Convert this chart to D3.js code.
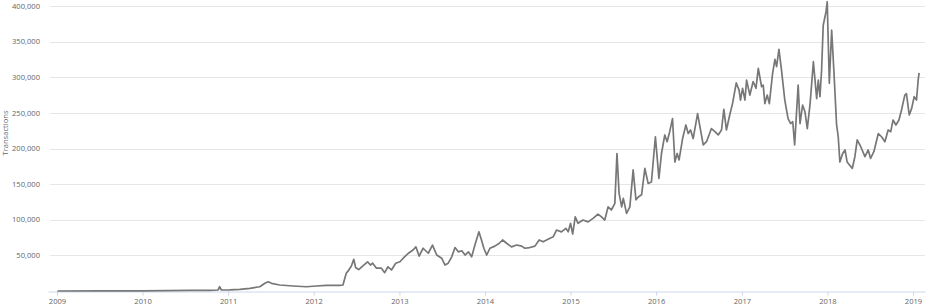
<!DOCTYPE html>
<html>
<head>
<meta charset="utf-8">
<script src="https://cdn.jsdelivr.net/npm/d3@7"></script>
<style>
  body { margin: 0; background: #fff; }
  text { font-family: "Open Sans", sans-serif; }
</style>
</head>
<body>
<svg id="chart" width="928" height="305"></svg>
<script>
const dates = [
  "2009-01-03","2009-07-02","2010-01-02","2010-07-22","2010-10-15","2010-11-19","2010-11-26","2010-12-03",
  "2011-01-08","2011-02-20","2011-04-04","2011-05-16","2011-06-07","2011-06-21","2011-07-05","2011-08-09",
  "2011-10-05","2011-12-01","2012-01-13","2012-02-24","2012-04-21","2012-05-05","2012-05-19","2012-05-29",
  "2012-06-10","2012-06-20","2012-06-28","2012-07-11","2012-07-28","2012-08-18","2012-08-30","2012-09-09",
  "2012-09-25","2012-10-16","2012-10-30","2012-11-13","2012-11-28","2012-12-16","2013-01-03","2013-01-17",
  "2013-02-08","2013-02-28","2013-03-12","2013-03-26","2013-04-12","2013-05-04","2013-05-22","2013-06-09",
  "2013-06-30","2013-07-14","2013-07-28","2013-08-12","2013-08-26","2013-09-09","2013-09-24","2013-10-08",
  "2013-10-22","2013-11-05","2013-11-19","2013-12-06","2013-12-17","2013-12-27","2014-01-08","2014-01-22",
  "2014-02-12","2014-03-03","2014-03-17","2014-04-03","2014-04-24","2014-05-16","2014-06-06","2014-06-20",
  "2014-07-11","2014-08-02","2014-08-20","2014-09-06","2014-09-27","2014-10-19","2014-11-02","2014-11-23",
  "2014-12-12","2014-12-22","2015-01-01","2015-01-10","2015-01-21","2015-02-02","2015-02-23","2015-03-17",
  "2015-04-07","2015-04-28","2015-05-13","2015-05-27","2015-06-10","2015-06-24","2015-07-09","2015-07-18",
  "2015-07-27","2015-08-07","2015-08-14","2015-08-28","2015-09-11","2015-09-25","2015-10-07","2015-10-17",
  "2015-10-31","2015-11-14","2015-11-28","2015-12-12","2015-12-29","2016-01-13","2016-01-24","2016-02-07",
  "2016-02-17","2016-02-28","2016-03-11","2016-03-21","2016-03-31","2016-04-08","2016-04-23","2016-05-07",
  "2016-05-17","2016-05-27","2016-06-07","2016-06-26","2016-07-06","2016-07-20","2016-08-03","2016-08-24",
  "2016-09-08","2016-09-22","2016-10-06","2016-10-16","2016-10-27","2016-11-10","2016-11-22","2016-12-08",
  "2016-12-20","2016-12-26","2017-01-04","2017-01-14","2017-01-21","2017-02-04","2017-02-18","2017-03-02",
  "2017-03-12","2017-03-26","2017-04-02","2017-04-09","2017-04-19","2017-04-28","2017-05-12","2017-05-22",
  "2017-05-29","2017-06-08","2017-06-19","2017-07-03","2017-07-17","2017-07-28","2017-08-06","2017-08-14",
  "2017-08-29","2017-09-06","2017-09-17","2017-09-27","2017-10-07","2017-10-19","2017-11-02","2017-11-16",
  "2017-11-23","2017-11-30","2017-12-07","2017-12-14","2017-12-26","2017-12-31","2018-01-09","2018-01-19",
  "2018-01-29","2018-02-09","2018-02-16","2018-02-23","2018-03-07","2018-03-17","2018-03-26","2018-04-17",
  "2018-04-28","2018-05-08","2018-05-23","2018-06-10","2018-06-24","2018-07-04","2018-07-18","2018-08-06",
  "2018-08-20","2018-09-03","2018-09-17","2018-09-28","2018-10-08","2018-10-20","2018-11-02","2018-11-13",
  "2018-11-27","2018-12-04","2018-12-16","2018-12-26","2019-01-06","2019-01-16","2019-01-23","2019-01-27"
];
const transactions = [
  1,200,300,800,1000,1400,6000,1400,
  1500,2300,3700,6000,10800,13000,10800,8400,
  7000,6000,7000,8000,8000,8400,25000,29000,
  35000,44500,33000,30000,35000,41000,36500,39000,
  32000,32000,25700,34000,29500,39000,41000,46000,
  53000,57500,62000,49000,60000,53000,64500,50500,
  46000,36500,39000,48000,61000,55000,56500,50500,
  55000,48000,64500,83000,71600,60000,50500,60000,
  63000,67000,71600,67000,62000,64500,63000,60000,
  61000,63000,71600,69000,72500,76000,85600,83000,
  88000,83000,95000,80000,104000,95000,99600,97000,
  102000,108000,104000,99600,118000,113700,123000,193000,
  137000,118000,130000,109000,118000,170000,128000,132000,
  135000,172000,151000,153000,216500,158000,193000,219000,
  209500,223600,242000,181000,193000,184000,214000,233000,
  221000,226000,214000,249000,230600,205000,209500,228000,
  223600,219000,226000,255000,226000,247000,263000,292000,
  282000,268000,284500,268000,296000,275000,294000,284500,
  312500,286700,289000,263000,275000,263000,305500,325000,
  315000,339000,310000,268000,242000,235000,237600,205000,
  289000,235000,261000,251600,228000,263000,321800,270000,
  296000,272700,310000,373000,392000,406000,291500,366000,
  305500,233000,216500,181000,193000,198000,181000,172000,
  188500,212000,202500,188500,198000,186000,195500,221000,
  216500,209500,226000,223600,240000,233000,240000,254000,
  275000,277000,247000,256000,272700,268000,296000,306000
];
const yTicks = [50000, 100000, 150000, 200000, 250000, 300000, 350000, 400000];
const yearTicks = [2009, 2010, 2011, 2012, 2013, 2014, 2015, 2016, 2017, 2018, 2019];
const yTitle = "Transactions";

const parseDate = d3.timeParse("%Y-%m-%d");
const data = dates.map((d, i) => ({date: parseDate(d), value: transactions[i]}));

const svg = d3.select("#chart");
const plotLeft = 48, plotRight = 925, plotTop = 6, plotBottom = 291;

// years sit at fixed pixel spots; pad the domain so the axis runs edge to edge
const base = d3.scaleTime()
  .domain([new Date(2009, 0, 1), new Date(2019, 0, 1)])
  .range([57, 913]);
const x = d3.scaleTime()
  .domain([base.invert(plotLeft), base.invert(plotRight)])
  .range([plotLeft, plotRight]);

const y = d3.scaleLinear()
  .domain([0, 400000])
  .range([plotBottom, plotTop]);

// grid
svg.append("g")
  .selectAll("line")
  .data(yTicks)
  .join("line")
    .attr("x1", 50)
    .attr("x2", plotRight)
    .attr("y1", d => Math.round(y(d)) + 0.5)
    .attr("y2", d => Math.round(y(d)) + 0.5)
    .attr("stroke", "#e6e6e6")
    .attr("stroke-width", 1);

// y labels
svg.append("g")
  .selectAll("text")
  .data(yTicks)
  .join("text")
    .attr("x", 40)
    .attr("y", d => y(d))
    .attr("dy", "0.35em")
    .attr("text-anchor", "end")
    .attr("font-size", "7.6px")
    .attr("fill", "#666")
    .text(d => d3.format(",")(d));

svg.append("text")
  .attr("transform", "translate(7.5,133) rotate(-90)")
  .attr("text-anchor", "middle")
  .attr("font-size", "7.6px")
  .attr("fill", "#666")
  .text(yTitle);

// x axis
const xAxis = d3.axisBottom(x)
  .tickValues(yearTicks.map(yr => new Date(yr, 0, 1)))
  .tickFormat(d3.timeFormat("%Y"))
  .tickSize(4)
  .tickSizeOuter(0)
  .tickPadding(3);

const gx = svg.append("g")
  .attr("transform", `translate(0,${plotBottom + 0.5})`)
  .call(xAxis);
gx.select(".domain").attr("stroke", "#ccd6eb").attr("stroke-width", 1);
gx.selectAll(".tick line").attr("stroke", "#ccd6eb");
gx.selectAll(".tick text")
  .attr("font-family", "Open Sans, sans-serif")
  .attr("font-size", "7.6px")
  .attr("fill", "#666");

// series
const line = d3.line()
  .x(d => x(d.date))
  .y(d => y(d.value));

svg.append("path")
  .datum(data)
  .attr("fill", "none")
  .attr("stroke", "#777")
  .attr("stroke-width", 1.7)
  .attr("stroke-linejoin", "round")
  .attr("d", line);
</script>
</body>
</html>
